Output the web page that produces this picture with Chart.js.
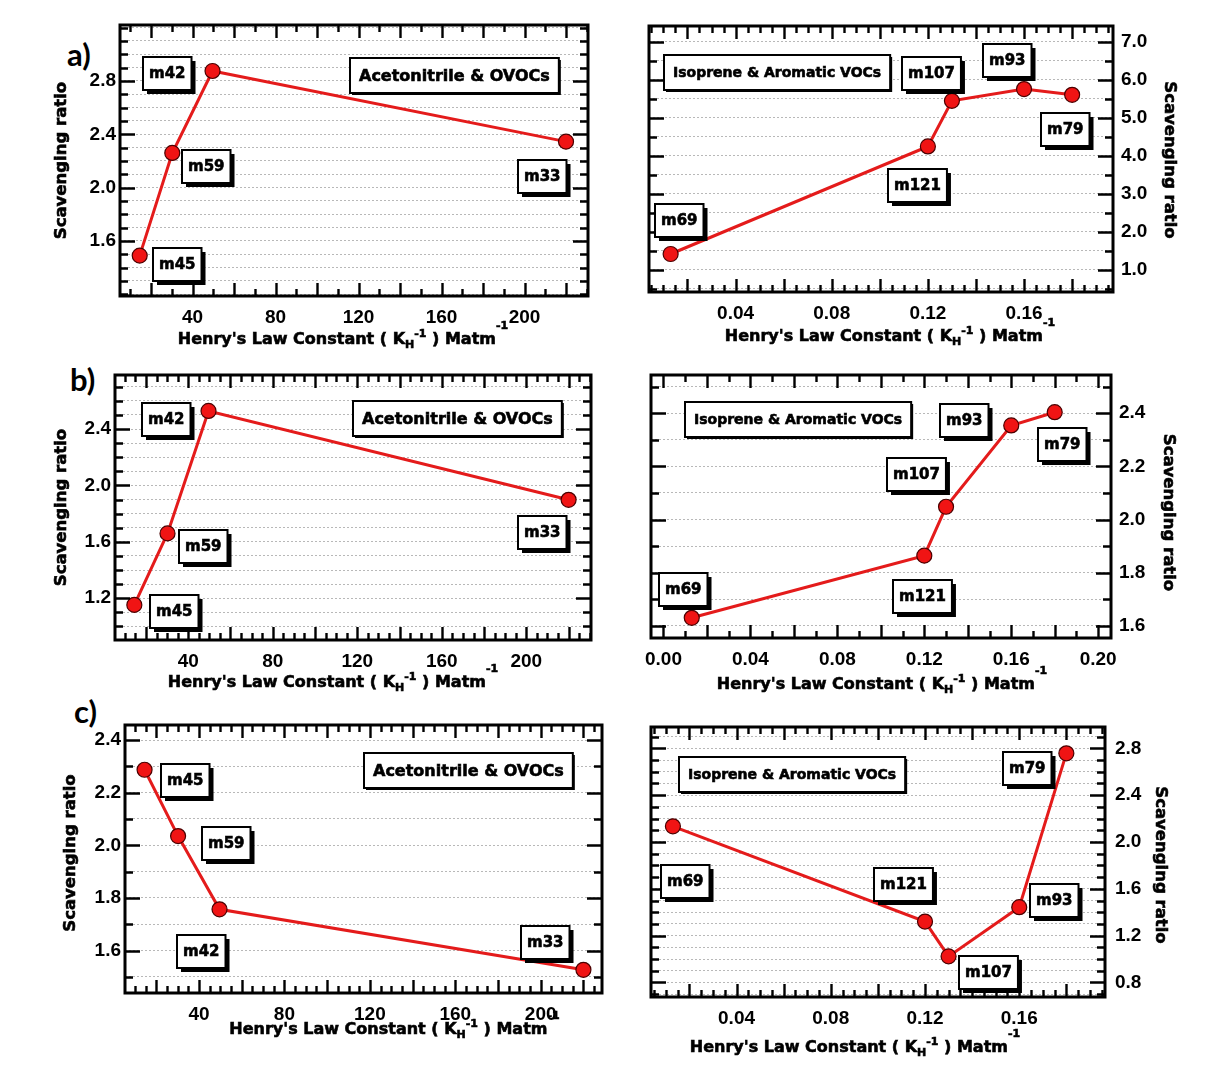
<!DOCTYPE html>
<html>
<head>
<meta charset="utf-8">
<script src="https://cdn.jsdelivr.net/npm/chart.js@4.4.1/dist/chart.umd.min.js"></script>
<style>
  html, body { margin: 0; padding: 0; background: #fff; }
  body { position: relative; width: 1210px; height: 1082px; overflow: hidden; }
  canvas { position: absolute; }
  .tag { position: absolute; font: 700 31px Lato, "Open Sans", sans-serif; line-height: 31px; color: #000; }
</style>
</head>
<body>
<div class="tag" style="left:67px;top:39px">a)</div>
<div class="tag" style="left:70px;top:364px">b)</div>
<div class="tag" style="left:74px;top:696px">c)</div>
<script>
// compounds and Henry's law constants (M atm-1)
const acetoNames = ['m45', 'm59', 'm42', 'm33'];
const acetoKH = [14.5, 30.2, 49.6, 220];
const isoNames = ['m69', 'm121', 'm107', 'm93', 'm79'];
const isoKH = [0.013, 0.12, 0.13, 0.16, 0.18];

// scavenging ratios
const scavAceto_a = [1.49, 2.26, 2.875, 2.345];
const scavIso_a = [1.41, 4.24, 5.44, 5.75, 5.6];
const scavAceto_b = [1.153, 1.66, 2.528, 1.898];
const scavIso_b = [1.63, 1.864, 2.048, 2.354, 2.404];
const scavAceto_c = [2.287, 2.035, 1.757, 1.527];
const scavIso_c = [2.134, 1.32, 1.023, 1.443, 2.757];

// tick labels
const acetoXLabels = [40, 80, 120, 160, 200];
const isoXLabels = [0.04, 0.08, 0.12, 0.16];
const isoXLabels_b = [0.00, 0.04, 0.08, 0.12, 0.16, 0.20];
const yLabelsAceto_a = [1.6, 2.0, 2.4, 2.8];
const yLabelsIso_a = [1.0, 2.0, 3.0, 4.0, 5.0, 6.0, 7.0];
const yLabelsAceto_b = [1.2, 1.6, 2.0, 2.4];
const yLabelsIso_b = [1.6, 1.8, 2.0, 2.2, 2.4];
const yLabelsAceto_c = [1.6, 1.8, 2.0, 2.2, 2.4];
const yLabelsIso_c = [0.8, 1.2, 1.6, 2.0, 2.4, 2.8];

const RED = '#e41b1b';
const HEAVY = '"DejaVu Sans", sans-serif';
const TICK_FONT = { family: '"Liberation Sans", Arial, sans-serif', size: 19, weight: 'bold' };

// layout: canvas box and plot frame are page pixels
const panels = [
  { box: [0, 0, 605, 355], frame: [120, 25, 588, 296], names: acetoNames, kh: acetoKH, ratio: scavAceto_a,
    xMin: 5, xMax: 230.6, xMinor: 10, xMajor: 20, xLabels: acetoXLabels, xDec: 0,
    yMin: 1.187, yMax: 3.22, yGrid: 0.1, yLabels: yLabelsAceto_a, ySide: 'left', yPad: 4,
    inset: 'Acetonitrile & OVOCs', insetAt: [334, 50], insetFont: 16,
    tags: [[38, 9], [34, 14], [-45, 3], [-24, 35]], xTitle: [-11, 44], yTitle: [-58, 0] },
  { box: [605, 0, 605, 355], frame: [649, 26, 1113, 292], names: isoNames, kh: isoKH, ratio: scavIso_a,
    xMin: 0.004, xMax: 0.197, xMinor: 0.005, xMajor: 0.02, xLabels: isoXLabels, xDec: 2,
    yMin: 0.41, yMax: 7.41, yGrid: 0.5, yLabels: yLabelsIso_a, ySide: 'right', yPad: 8,
    inset: 'Isoprene & Aromatic VOCs', insetAt: [128, 46], insetFont: 14,
    tags: [[9, -34], [-10, 39], [-20, -27], [-17, -29], [-7, 35]], xTitle: [9, 45], yTitle: [56, 1] },
  { box: [0, 355, 605, 347], frame: [115, 375, 591, 640], names: acetoNames, kh: acetoKH, ratio: scavAceto_b,
    xMin: 5.35, xMax: 230.6, xMinor: 5, xMajor: 20, xLabels: acetoXLabels, xDec: 0,
    yMin: 0.904, yMax: 2.783, yGrid: 0.1, yLabels: yLabelsAceto_b, ySide: 'left', yPad: 4,
    inset: 'Acetonitrile & OVOCs', insetAt: [342, 43], insetFont: 16,
    tags: [[40, 7], [36, 13], [-42, 9], [-26, 33]], xTitle: [-20, 43], yTitle: [-53, 0] },
  { box: [605, 355, 605, 347], frame: [651, 375, 1111, 638], names: isoNames, kh: isoKH, ratio: scavIso_b,
    xMin: -0.00575, xMax: 0.2059, xMinor: 0.01, xMajor: 0.02, xLabels: isoXLabels_b, xDec: 2,
    yMin: 1.554, yMax: 2.544, yGrid: 0.1, yLabels: yLabelsIso_b, ySide: 'right', yPad: 8,
    inset: 'Isoprene & Aromatic VOCs', insetAt: [147, 44], insetFont: 14,
    tags: [[-8, -28], [-2, 41], [-30, -32], [-47, -5], [8, 32]], xTitle: [1, 47], yTitle: [57, 6] },
  { box: [0, 702, 605, 380], frame: [125, 725, 602, 993], names: acetoNames, kh: acetoKH, ratio: scavAceto_c,
    xMin: 5.34, xMax: 228.7, xMinor: 5, xMajor: 20, xLabels: acetoXLabels, xDec: 0,
    yMin: 1.439, yMax: 2.457, yGrid: 0.1, yLabels: yLabelsAceto_c, ySide: 'left', yPad: 4,
    inset: 'Acetonitrile & OVOCs', insetAt: [343, 45], insetFont: 16,
    tags: [[41, 11], [48, 7], [-18, 42], [-38, -27]], xTitle: [31, 37], yTitle: [-54, -6] },
  { box: [605, 702, 605, 380], frame: [651, 727, 1105, 997], names: isoNames, kh: isoKH, ratio: scavIso_c,
    xMin: 0.0037, xMax: 0.1964, xMinor: 0.005, xMajor: 0.02, xLabels: isoXLabels, xDec: 2,
    yMin: 0.676, yMax: 2.982, yGrid: 0.1, yLabels: yLabelsIso_c, ySide: 'right', yPad: 10,
    inset: 'Isoprene & Aromatic VOCs', insetAt: [141, 47], insetFont: 14,
    tags: [[12, 55], [-22, -37], [40, 16], [35, -7], [-39, 15]], xTitle: [-23, 51], yTitle: [55, 3] }
];

const near = (a, b) => Math.abs(a - b) < 1e-6;

// bold text with a thin outline so it reads as heavy as the original
function heavyText(ctx, text, x, y) {
  ctx.fillText(text, x, y);
  ctx.lineWidth = 0.6;
  ctx.strokeStyle = '#000';
  ctx.strokeText(text, x, y);
}

function drawBox(ctx, text, cx, cy, font, padX, h, shadow) {
  ctx.font = font;
  const w = ctx.measureText(text).width + 2 * padX;
  const x0 = Math.round(cx - w / 2), y0 = Math.round(cy - h / 2);
  ctx.fillStyle = '#000';
  ctx.fillRect(x0 + shadow, y0 + shadow, w, h);
  ctx.fillStyle = '#fff';
  ctx.fillRect(x0, y0, w, h);
  ctx.lineWidth = 2;
  ctx.strokeStyle = '#000';
  ctx.strokeRect(x0, y0, w, h);
  ctx.fillStyle = '#000';
  ctx.textAlign = 'center';
  ctx.textBaseline = 'middle';
  heavyText(ctx, text, x0 + w / 2, y0 + h / 2 + 1);
}

function drawXTitle(ctx, cx, cy) {
  const big = 'bold 16px ' + HEAVY, small = 'bold 11px ' + HEAVY;
  const parts = [["Henry's Law Constant ( K", big, 0], ['H', small, 5], ['-1', small, -6],
                 [' ) Matm', big, 0], ['-1', small, -14]];
  let total = 0;
  parts.forEach(p => { ctx.font = p[1]; total += ctx.measureText(p[0]).width; });
  let x = cx - total / 2;
  ctx.fillStyle = '#000';
  ctx.textAlign = 'left';
  ctx.textBaseline = 'middle';
  parts.forEach(p => {
    ctx.font = p[1];
    heavyText(ctx, p[0], x, cy + p[2]);
    x += ctx.measureText(p[0]).width;
  });
}

function drawYTitle(ctx, x, y, right) {
  ctx.save();
  ctx.translate(x, y);
  ctx.rotate(right ? Math.PI / 2 : -Math.PI / 2);
  ctx.font = 'bold 16.5px ' + HEAVY;
  ctx.fillStyle = '#000';
  ctx.textAlign = 'center';
  ctx.textBaseline = 'middle';
  heavyText(ctx, 'Scavenging ratio', 0, 0);
  ctx.restore();
}

function deco(p) {
  return {
    id: 'deco',
    afterDraw(chart) {
      const ctx = chart.ctx, a = chart.chartArea, sx = chart.scales.x, sy = chart.scales.y;
      ctx.save();
      // inward tick marks on all four sides
      ctx.strokeStyle = '#000';
      ctx.lineWidth = 2.4;
      ctx.beginPath();
      for (let k = Math.ceil(p.xMin / p.xMinor - 1e-9); k * p.xMinor <= p.xMax + 1e-9; k++) {
        const v = k * p.xMinor;
        const len = near(v / p.xMajor, Math.round(v / p.xMajor)) ? 13 : 7;
        const px = Math.round(sx.getPixelForValue(v)) + 0.5;
        ctx.moveTo(px, a.top); ctx.lineTo(px, a.top + len);
        ctx.moveTo(px, a.bottom); ctx.lineTo(px, a.bottom - len);
      }
      for (let k = Math.ceil(p.yMin / p.yGrid - 1e-9); k * p.yGrid <= p.yMax + 1e-9; k++) {
        const v = k * p.yGrid;
        const len = p.yLabels.some(l => near(l, v)) ? 15 : 8;
        const py = Math.round(sy.getPixelForValue(v)) + 0.5;
        ctx.moveTo(a.left, py); ctx.lineTo(a.left + len, py);
        ctx.moveTo(a.right, py); ctx.lineTo(a.right - len, py);
      }
      ctx.stroke();
      ctx.lineWidth = 3;
      ctx.strokeRect(a.left, a.top, a.right - a.left, a.bottom - a.top);

      drawBox(ctx, p.inset, a.left + p.insetAt[0], a.top + p.insetAt[1], 'bold ' + p.insetFont + 'px ' + HEAVY, 9, 35, 2);
      const pts = chart.getDatasetMeta(0).data;
      p.names.forEach((n, i) => {
        drawBox(ctx, n, pts[i].x + p.tags[i][0], pts[i].y + p.tags[i][1], 'bold 15px ' + HEAVY, 6, 33, 4);
      });

      drawXTitle(ctx, (a.left + a.right) / 2 + p.xTitle[0], a.bottom + p.xTitle[1]);
      const right = p.ySide === 'right';
      drawYTitle(ctx, (right ? a.right : a.left) + p.yTitle[0], (a.top + a.bottom) / 2 + p.yTitle[1], right);
      ctx.restore();
    }
  };
}

function makePanel(p) {
  const [cx, cy, cw, ch] = p.box;
  const [L, T, R, B] = p.frame;
  const cv = document.createElement('canvas');
  cv.width = cw;
  cv.height = ch;
  cv.style.left = cx + 'px';
  cv.style.top = cy + 'px';
  document.body.appendChild(cv);
  const right = p.ySide === 'right';
  const yWidth = right ? cx + cw - R : L - cx;

  const yTicks = [];
  for (let k = Math.ceil(p.yMin / p.yGrid - 1e-9); k * p.yGrid <= p.yMax + 1e-9; k++) {
    yTicks.push(+(k * p.yGrid).toFixed(6));
  }

  new Chart(cv, {
    type: 'scatter',
    data: {
      datasets: [{
        data: p.kh.map((v, i) => ({ x: v, y: p.ratio[i] })),
        showLine: true,
        borderColor: RED,
        borderWidth: 3,
        pointRadius: 7.5,
        pointBackgroundColor: '#f01414',
        pointBorderColor: '#4a0000',
        pointBorderWidth: 1.2
      }]
    },
    options: {
      responsive: false,
      animation: false,
      devicePixelRatio: 1,
      layout: {
        autoPadding: false,
        padding: { left: right ? L - cx : 0, right: right ? 0 : cx + cw - R, top: T - cy, bottom: 0 }
      },
      plugins: { legend: { display: false }, tooltip: { enabled: false } },
      scales: {
        x: {
          type: 'linear',
          position: 'bottom',
          min: p.xMin,
          max: p.xMax,
          afterBuildTicks: s => { s.ticks = p.xLabels.map(v => ({ value: v })); },
          afterFit: s => { s.height = cy + ch - B; },
          grid: { display: false, drawTicks: false },
          border: { display: false },
          ticks: {
            padding: 10,
            color: '#000',
            font: TICK_FONT,
            maxRotation: 0,
            autoSkip: false,
            callback: v => p.xDec ? Number(v).toFixed(p.xDec) : String(v)
          }
        },
        y: {
          type: 'linear',
          position: p.ySide,
          min: p.yMin,
          max: p.yMax,
          afterBuildTicks: s => { s.ticks = yTicks.map(v => ({ value: v })); },
          afterFit: s => { s.width = yWidth; },
          grid: { color: '#b8b8b8', lineWidth: 1, drawTicks: false },
          border: { display: false, dash: [2, 2] },
          ticks: {
            padding: p.yPad,
            color: '#000',
            font: TICK_FONT,
            autoSkip: false,
            callback: v => p.yLabels.some(l => near(l, v)) ? Number(v).toFixed(1) : ''
          }
        }
      }
    },
    plugins: [deco(p)]
  });
}

panels.forEach(makePanel);
</script>
</body>
</html>
